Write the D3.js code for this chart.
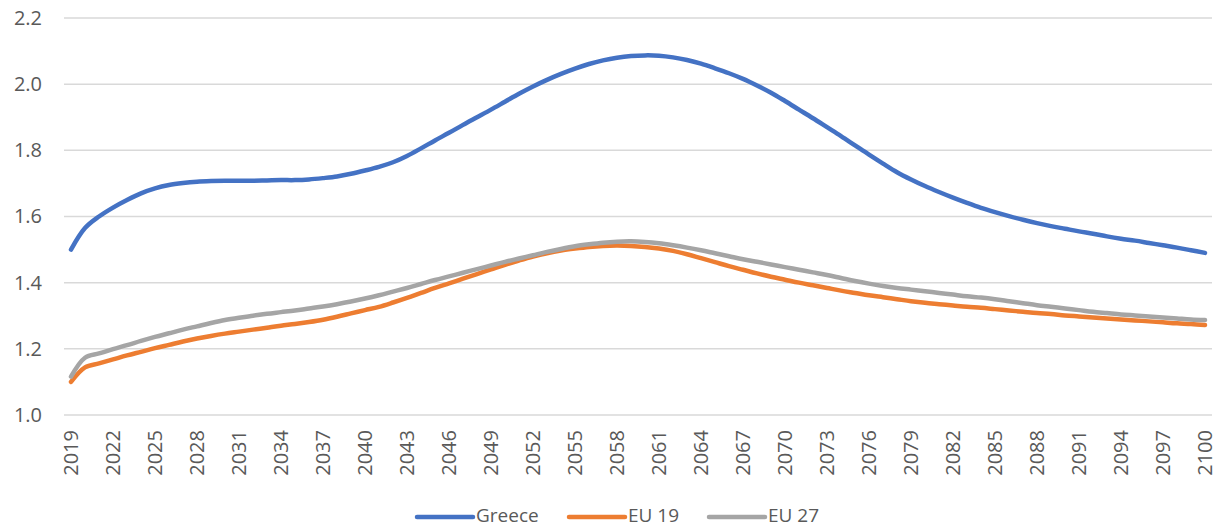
<!DOCTYPE html>
<html>
<head>
<meta charset="utf-8">
<script src="https://cdn.jsdelivr.net/npm/d3@7"></script>
<style>
  html, body { margin: 0; padding: 0; background: #fff; }
  svg { display: block; font-family: "Open Sans", "Liberation Sans", sans-serif; }
</style>
</head>
<body>
<svg id="chart" width="1217" height="529"></svg>
<script>
const years = d3.range(2019, 2101);
const yTicks = [1.0, 1.2, 1.4, 1.6, 1.8, 2.0, 2.2];
const seriesNames = ["Greece", "EU 19", "EU 27"];
const seriesColors = ["#4472C4", "#ED7D31", "#A5A5A5"];

const greece = [
  1.500, 1.565, 1.600, 1.627, 1.650, 1.670, 1.685, 1.695, 1.701, 1.705,
  1.707, 1.708, 1.708, 1.708, 1.709, 1.710, 1.710, 1.712, 1.716, 1.721,
  1.729, 1.739, 1.750, 1.764, 1.783, 1.806, 1.830, 1.853, 1.877, 1.900,
  1.923, 1.947, 1.971, 1.993, 2.013, 2.031, 2.047, 2.061, 2.072, 2.080,
  2.085, 2.087, 2.086, 2.081, 2.073, 2.062, 2.048, 2.033, 2.016, 1.996,
  1.974, 1.949, 1.923, 1.897, 1.870, 1.843, 1.815, 1.787, 1.760, 1.734,
  1.712, 1.692, 1.674, 1.657, 1.641, 1.626, 1.613, 1.601, 1.590, 1.580,
  1.571, 1.563, 1.555, 1.548, 1.540, 1.533, 1.527, 1.520, 1.513, 1.506,
  1.498, 1.490
];
const eu19 = [
  1.100, 1.144, 1.156, 1.168, 1.180, 1.191, 1.202, 1.212, 1.222, 1.231,
  1.239, 1.246, 1.252, 1.258, 1.264, 1.270, 1.275, 1.281, 1.288, 1.297,
  1.307, 1.317, 1.327, 1.340, 1.354, 1.369, 1.384, 1.398, 1.412, 1.426,
  1.440, 1.454, 1.467, 1.479, 1.489, 1.497, 1.503, 1.508, 1.511, 1.512,
  1.511, 1.508, 1.503, 1.496, 1.486, 1.474, 1.462, 1.450, 1.439, 1.428,
  1.418, 1.409, 1.400, 1.392, 1.384, 1.376, 1.369, 1.362, 1.356, 1.350,
  1.344, 1.339, 1.335, 1.331, 1.327, 1.324, 1.320, 1.316, 1.312, 1.308,
  1.305, 1.301, 1.298, 1.295, 1.292, 1.289, 1.286, 1.283, 1.280, 1.277,
  1.275, 1.272
];
const eu27 = [
  1.116, 1.173, 1.186, 1.199, 1.211, 1.224, 1.236, 1.247, 1.258, 1.268,
  1.278, 1.287, 1.294, 1.300, 1.306, 1.311, 1.316, 1.322, 1.328, 1.335,
  1.343, 1.352, 1.362, 1.373, 1.384, 1.396, 1.408, 1.419, 1.430, 1.441,
  1.452, 1.463, 1.473, 1.483, 1.493, 1.502, 1.510, 1.516, 1.521, 1.524,
  1.525, 1.523, 1.519, 1.513, 1.506, 1.498, 1.489, 1.480, 1.471, 1.463,
  1.455, 1.447, 1.439, 1.431, 1.423, 1.414, 1.405, 1.397, 1.390, 1.384,
  1.379, 1.374, 1.369, 1.364, 1.359, 1.355, 1.350, 1.344, 1.338, 1.332,
  1.327, 1.322, 1.317, 1.312, 1.308, 1.304, 1.301, 1.298, 1.295, 1.292,
  1.289, 1.287
];
const seriesValues = [greece, eu19, eu27];

const svg = d3.select("#chart");
const plot = { left: 64, right: 1212, top: 18, bottom: 415 };

const x = d3.scaleBand().domain(years).range([plot.left, plot.right]);
const y = d3.scaleLinear().domain([1.0, 2.2]).range([plot.bottom, plot.top]);

// gridlines
svg.append("g")
  .selectAll("line")
  .data(yTicks)
  .join("line")
  .attr("x1", plot.left).attr("x2", plot.right)
  .attr("y1", d => y(d)).attr("y2", d => y(d))
  .attr("stroke", "#D9D9D9").attr("stroke-width", 1.5);

// y axis labels
const yAxis = d3.axisLeft(y).tickValues(yTicks).tickFormat(d3.format(".1f")).tickSize(0).tickPadding(0);
const gy = svg.append("g").attr("transform", "translate(42,0)").call(yAxis);
gy.select(".domain").remove();
gy.selectAll("text").attr("fill", "#595959").style("font-size", "20px")
  .style("font-family", "'Open Sans', sans-serif");

// x axis labels
const xTickYears = years.filter(d => (d - 2019) % 3 === 0);
const xAxis = d3.axisBottom(x).tickValues(xTickYears).tickSize(0).tickPadding(0);
const gx = svg.append("g").attr("transform", `translate(0,${plot.bottom})`).call(xAxis);
gx.select(".domain").remove();
gx.selectAll("text")
  .attr("fill", "#595959").style("font-size", "20px")
  .style("font-family", "'Open Sans', sans-serif")
  .attr("text-anchor", "end")
  .attr("dy", "0.35em")
  .attr("transform", "translate(0,15) rotate(-90)")
  .attr("y", 0).attr("x", 0);

// lines
const line = d3.line()
  .x((d, i) => x(years[i]) + x.bandwidth() / 2)
  .y(d => y(d))
  .curve(d3.curveCatmullRom.alpha(0.5));

svg.append("g")
  .selectAll("path")
  .data(seriesValues)
  .join("path")
  .attr("d", d => line(d))
  .attr("fill", "none")
  .attr("stroke", (d, i) => seriesColors[i])
  .attr("stroke-width", 4.5)
  .attr("stroke-linecap", "round")
  .attr("stroke-linejoin", "round");

// legend
const legendX = [417, 569, 709];
const lg = svg.append("g").selectAll("g").data(seriesNames).join("g")
  .attr("transform", (d, i) => `translate(${legendX[i]},517)`);
lg.append("line").attr("x1", 0).attr("x2", 56).attr("y1", 0).attr("y2", 0)
  .attr("stroke", (d, i) => seriesColors[i]).attr("stroke-width", 4.5).attr("stroke-linecap", "round");
lg.append("text").attr("x", 59).attr("y", 0).attr("dy", "0.25em")
  .attr("fill", "#595959").style("font-size", "19px").text(d => d);
</script>
</body>
</html>
